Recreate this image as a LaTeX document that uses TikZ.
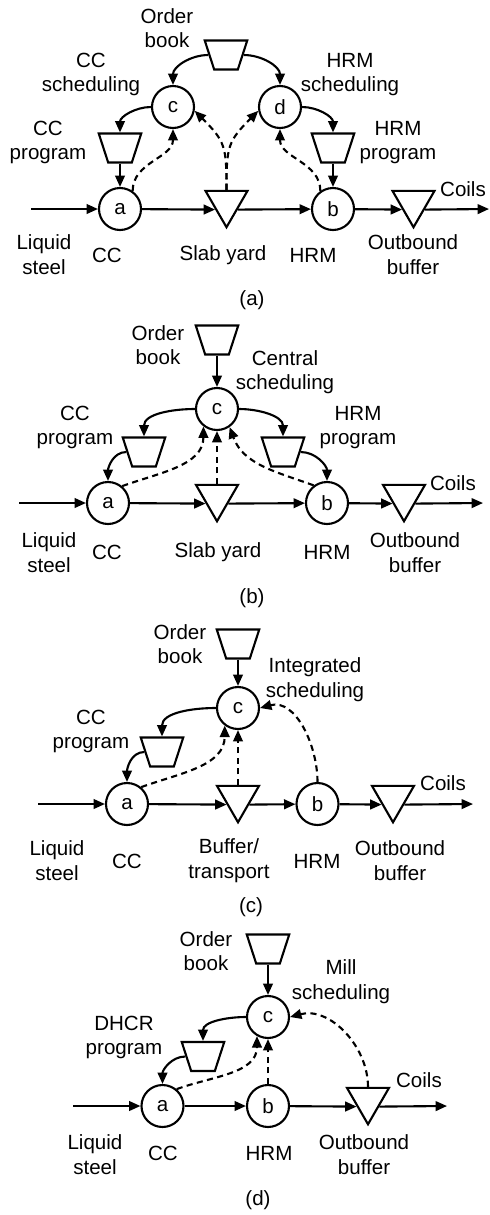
\documentclass[tikz,border=0pt]{standalone}
\usepackage{fontspec}
\setmainfont{Liberation Sans}
\usepackage{tikz}
\usetikzlibrary{arrows.meta,shapes.geometric}

\tikzset{
  proc/.style={draw,circle,minimum size=0.84cm,inner sep=0pt},
  stock/.style={draw,regular polygon,regular polygon sides=3,shape border rotate=180,minimum size=0.97cm,inner sep=0pt},
  plan/.style={draw,trapezium,trapezium left angle=108,trapezium right angle=108,trapezium stretches body,minimum width=0.85cm,inner xsep=0pt,inner ysep=0.29cm},
  tx/.style={align=center,inner sep=0pt},
  flow/.style={-{Triangle[length=6.5pt,width=5.5pt]}},
  info/.style={flow,dash pattern=on 3.5pt off 2.5pt}
}

\begin{document}
\begin{tikzpicture}[x=0.02cm,y=-0.02cm,line width=1.2pt,font=\fontsize{11.7}{14}\selectfont]
\useasboundingbox (0,0) rectangle (490,1215);
% (a) separate scheduling
\coordinate (inA) at (31,209);
\node[proc] (ccA) at (120,209) {a};
\node[stock] (yardA) at (226.5,203) {};
\node[proc] (hrmA) at (333,209) {b};
\node[stock] (outA) at (413.5,203) {};
\coordinate (endA) at (489,209);
\node[plan] (bookA) at (226,55) {};
\node[proc] (schA1) at (173,107) {c};
\node[proc] (schA2) at (280,107) {d};
\node[plan] (progA1) at (120,148) {};
\node[plan] (progA2) at (333,148) {};
\draw[flow] (inA) -- (ccA);
\draw[flow] (ccA) -- (yardA.side 3);
\draw[flow] (yardA.side 1) -- (hrmA);
\draw[flow] (hrmA) -- (outA.side 3);
\draw[flow] (outA.side 1) -- (endA);
\draw[flow] (bookA.west) to[out=180,in=90] (schA1);
\draw[flow] (bookA.east) to[out=0,in=90] (schA2);
\draw[flow] (schA1.west) to[out=180,in=90] (progA1.north);
\draw[flow] (schA2.east) to[out=0,in=90] (progA2.north);
\draw[flow] (progA1) -- (ccA);
\draw[flow] (progA2) -- (hrmA);
\draw[info] (ccA.55) to[out=90,in=-90] (schA1.south);
\draw[info] (hrmA.125) to[out=90,in=-90] (schA2.south);
\draw[info] (yardA.side 2) to[out=90,in=-45,looseness=1.3] (schA1.-10);
\draw[info] (yardA.side 2) to[out=90,in=-135,looseness=1.3] (schA2.190);
\node[tx] (lbookA) at (167,28) {Order\\book};
\node[tx] (lschA1) at (91,74.5) {CC\\scheduling};
\node[tx] (lschA2) at (350,74.5) {HRM\\scheduling};
\node[tx] (lprogA1) at (48,142.5) {CC\\program};
\node[tx] (lprogA2) at (398,142.5) {HRM\\program};
\node[tx] (lcoilA) at (463,189) {Coils};
\node[tx] (linA) at (44,254.5) {Liquid\\steel};
\node[tx] (lccA) at (107,255) {CC};
\node[tx] (lyardA) at (223,255) {Slab yard};
\node[tx] (lhrmA) at (313,255) {HRM};
\node[tx] (loutA) at (413,254.5) {Outbound\\buffer};
\node[tx] (capA) at (252,300) {(a)};
% (b) central scheduling
\coordinate (inB) at (19,503);
\node[proc] (ccB) at (108,503) {a};
\node[stock] (yardB) at (217,497) {};
\node[proc] (hrmB) at (327,503) {b};
\node[stock] (outB) at (404,497) {};
\coordinate (endB) at (483,503);
\node[plan] (bookB) at (217,340) {};
\node[proc] (schB) at (217,409) {c};
\node[plan] (progB1) at (144,452) {};
\node[plan] (progB2) at (283,452) {};
\draw[flow] (inB) -- (ccB);
\draw[flow] (ccB) -- (yardB.side 3);
\draw[flow] (yardB.side 1) -- (hrmB);
\draw[flow] (hrmB) -- (outB.side 3);
\draw[flow] (outB.side 1) -- (endB);
\draw[flow] (bookB) -- (schB);
\draw[flow] (schB.west) to[out=180,in=90] (progB1.north);
\draw[flow] (schB.east) to[out=0,in=90] (progB2.north);
\draw[flow] (progB1.west) to[out=180,in=90] (ccB.north);
\draw[flow] (progB2.east) to[out=0,in=90] (hrmB.north);
\draw[info] (ccB.50) to[out=20,in=-90] (schB.-128);
\draw[info] (yardB.side 2) -- (schB);
\draw[info] (hrmB.127) to[out=160,in=-70] (schB.-55);
\node[tx] (lbookB) at (158,345) {Order\\book};
\node[tx] (lschB) at (285,372) {Central\\scheduling};
\node[tx] (lprogB1) at (75,427.5) {CC\\program};
\node[tx] (lprogB2) at (358,427.5) {HRM\\program};
\node[tx] (lcoilB) at (453,483) {Coils};
\node[tx] (linB) at (49,552.5) {Liquid\\steel};
\node[tx] (lccB) at (107,552) {CC};
\node[tx] (lyardB) at (218,552) {Slab yard};
\node[tx] (lhrmB) at (327,552) {HRM};
\node[tx] (loutB) at (415,552.5) {Outbound\\buffer};
\node[tx] (capB) at (252,598) {(b)};
% (c) integrated scheduling
\coordinate (inC) at (38,804);
\node[proc] (ccC) at (127,804) {a};
\node[stock] (bufC) at (238,798) {};
\node[proc] (hrmC) at (317.5,804) {b};
\node[stock] (outC) at (393,798) {};
\coordinate (endC) at (473,804);
\node[plan] (bookC) at (238,644) {};
\node[proc] (schC) at (238,708) {c};
\node[plan] (progC) at (162,752) {};
\draw[flow] (inC) -- (ccC);
\draw[flow] (ccC) -- (bufC.side 3);
\draw[flow] (bufC.side 1) -- (hrmC);
\draw[flow] (hrmC) -- (outC.side 3);
\draw[flow] (outC.side 1) -- (endC);
\draw[flow] (bookC) -- (schC);
\draw[flow] (schC.west) to[out=180,in=90] (progC.north);
\draw[flow] (progC.west) to[out=180,in=90] (ccC.north);
\draw[info] (ccC.50) to[out=20,in=-90] (schC.-127);
\draw[info] (bufC.side 2) -- (schC);
\draw[info] (hrmC.north) to[out=90,in=15] (schC.east);
\node[tx] (lbookC) at (180,644) {Order\\book};
\node[tx] (lschC) at (315,679.5) {Integrated\\scheduling};
\node[tx] (lprogC) at (91,731.5) {CC\\program};
\node[tx] (lcoilC) at (443,783) {Coils};
\node[tx] (linC) at (57,860.5) {Liquid\\steel};
\node[tx] (lccC) at (127,861) {CC};
\node[tx] (lbufC) at (229,860.5) {Buffer/\\transport};
\node[tx] (lhrmC) at (317,861) {HRM};
\node[tx] (loutC) at (400,860.5) {Outbound\\buffer};
\node[tx] (capC) at (251,907) {(c)};
% (d) mill scheduling
\coordinate (inD) at (73,1106);
\node[proc] (ccD) at (162.5,1106) {a};
\node[proc] (hrmD) at (268,1106) {b};
\node[stock] (outD) at (368,1100) {};
\coordinate (endD) at (447,1106);
\node[plan] (bookD) at (268,949) {};
\node[proc] (schD) at (268,1017) {c};
\node[plan] (progD) at (203,1056.5) {};
\draw[flow] (inD) -- (ccD);
\draw[flow] (ccD) -- (hrmD);
\draw[flow] (hrmD) -- (outD.side 3);
\draw[flow] (outD.side 1) -- (endD);
\draw[flow] (bookD) -- (schD);
\draw[flow] (schD.west) to[out=180,in=90] (progD.north);
\draw[flow] (progD.west) to[out=180,in=90] (ccD.north);
\draw[info] (ccD.50) to[out=20,in=-90] (schD.-120);
\draw[info] (hrmD) -- (schD);
\draw[info] (outD.side 2) to[out=90,in=15] (schD.east);
\node[tx] (lbookD) at (206,951) {Order\\book};
\node[tx] (lschD) at (341,981.5) {Mill\\scheduling};
\node[tx] (lprogD) at (124,1037.5) {DHCR\\program};
\node[tx] (lcoilD) at (419,1080) {Coils};
\node[tx] (linD) at (95,1154.5) {Liquid\\steel};
\node[tx] (lccD) at (163,1153) {CC};
\node[tx] (lhrmD) at (269,1153) {HRM};
\node[tx] (loutD) at (364,1154.5) {Outbound\\buffer};
\node[tx] (capD) at (258,1200) {(d)};
\end{tikzpicture}
\end{document}
